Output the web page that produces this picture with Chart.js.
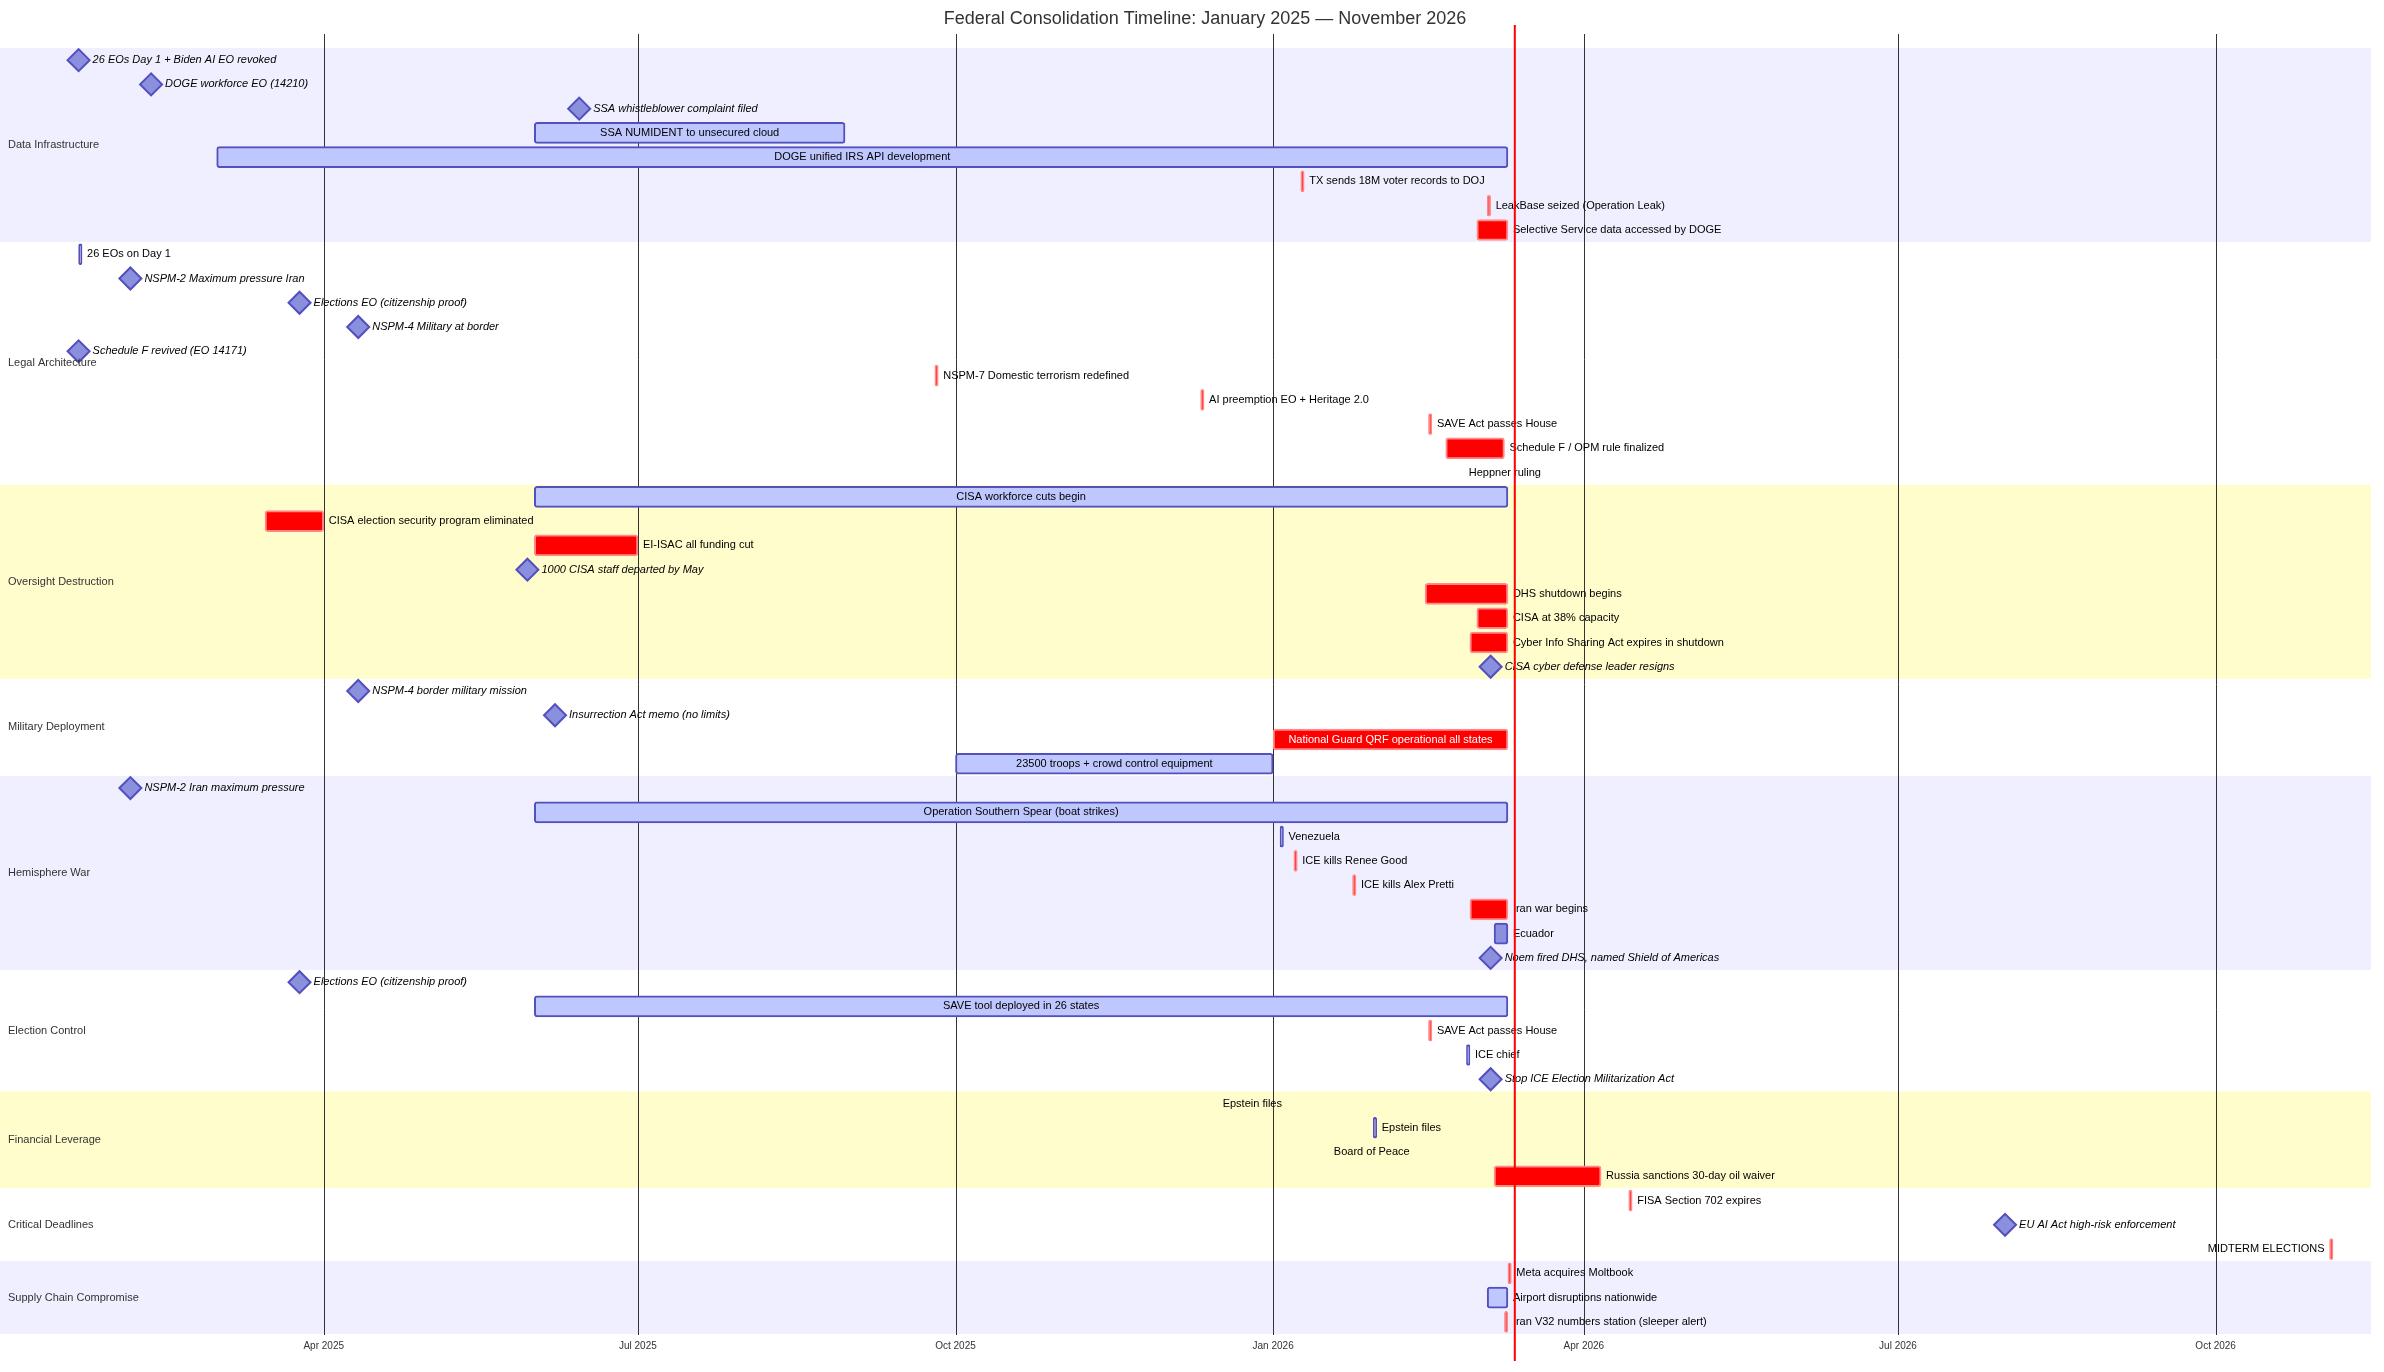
<!DOCTYPE html>
<html><head><meta charset="utf-8">
<script src="https://cdn.jsdelivr.net/npm/chart.js@4/dist/chart.umd.min.js"></script>
<style>html,body{margin:0;padding:0;background:#fff}canvas{display:block}</style>
</head><body>
<canvas id="c" width="2384" height="1372"></canvas>
<script>
const chartTitle = 'Federal Consolidation Timeline: January 2025 — November 2026';
const sectionNames = ['Data Infrastructure','Legal Architecture','Oversight Destruction','Military Deployment','Hemisphere War','Election Control','Financial Leverage','Critical Deadlines','Supply Chain Compromise'];
const sectionCounts = [8,10,8,4,8,5,4,3,3];
const taskNames = [
 '26 EOs Day 1 + Biden AI EO revoked','DOGE workforce EO (14210)','SSA whistleblower complaint filed','SSA NUMIDENT to unsecured cloud','DOGE unified IRS API development','TX sends 18M voter records to DOJ','LeakBase seized (Operation Leak)','Selective Service data accessed by DOGE',
 '26 EOs on Day 1','NSPM-2 Maximum pressure Iran','Elections EO (citizenship proof)','NSPM-4 Military at border','Schedule F revived (EO 14171)','NSPM-7 Domestic terrorism redefined','AI preemption EO + Heritage 2.0','SAVE Act passes House','Schedule F / OPM rule finalized','Heppner ruling',
 'CISA workforce cuts begin','CISA election security program eliminated','EI-ISAC all funding cut','1000 CISA staff departed by May','DHS shutdown begins','CISA at 38% capacity','Cyber Info Sharing Act expires in shutdown','CISA cyber defense leader resigns',
 'NSPM-4 border military mission','Insurrection Act memo (no limits)','National Guard QRF operational all states','23500 troops + crowd control equipment',
 'NSPM-2 Iran maximum pressure','Operation Southern Spear (boat strikes)','Venezuela','ICE kills Renee Good','ICE kills Alex Pretti','Iran war begins','Ecuador','Noem fired DHS, named Shield of Americas',
 'Elections EO (citizenship proof)','SAVE tool deployed in 26 states','SAVE Act passes House','ICE chief','Stop ICE Election Militarization Act',
 'Epstein files','Epstein files','Board of Peace','Russia sanctions 30-day oil waiver',
 'FISA Section 702 expires','EU AI Act high-risk enforcement','MIDTERM ELECTIONS',
 'Meta acquires Moltbook','Airport disruptions nationwide','Iran V32 numbers station (sleeper alert)'];
const taskKind = [
 'milestone','milestone','milestone','active','active','crit','crit','crit',
 'task','milestone','milestone','milestone','milestone','crit','crit','crit','crit','text',
 'active','crit','crit','milestone','crit','crit','crit','milestone',
 'milestone','milestone','crit','active',
 'milestone','active','task','crit','crit','crit','task','milestone',
 'milestone','active','crit','task','milestone',
 'text','task','text','crit',
 'crit','milestone','critL',
 'crit','active','crit'];
const taskStart = [
 '2025-01-20','2025-02-10','2025-06-14','2025-06-01','2025-03-01','2026-01-09','2026-03-04','2026-03-01',
 '2025-01-20','2025-02-04','2025-03-25','2025-04-11','2025-01-20','2025-09-25','2025-12-11','2026-02-15','2026-02-20','2026-03-21',
 '2025-06-01','2025-03-15','2025-06-01','2025-05-30','2026-02-14','2026-03-01','2026-02-27','2026-03-05',
 '2025-04-11','2025-06-07','2026-01-01','2025-10-01',
 '2025-02-04','2025-06-01','2026-01-03','2026-01-07','2026-01-24','2026-02-27','2026-03-06','2026-03-05',
 '2025-03-25','2025-06-01','2026-02-15','2026-02-26','2026-03-05',
 '2026-01-05','2026-01-30','2026-02-11','2026-03-06',
 '2026-04-14','2026-08-01','2026-11-03',
 '2026-03-10','2026-03-04','2026-03-09'];
const taskEnd = [
 null,null,null,'2025-08-30','2026-03-10','2026-01-10','2026-03-05','2026-03-10',
 '2025-01-21',null,null,null,null,'2025-09-26','2025-12-12','2026-02-16','2026-03-09',null,
 '2026-03-10','2025-04-01','2025-07-01',null,'2026-03-10','2026-03-10','2026-03-10',null,
 null,null,'2026-03-10','2026-01-01',
 null,'2026-03-10','2026-01-04','2026-01-08','2026-01-25','2026-03-10','2026-03-10',null,
 null,'2026-03-10','2026-02-16','2026-02-27',null,
 null,'2026-01-31',null,'2026-04-06',
 '2026-04-15',null,'2026-11-04',
 '2026-03-11','2026-03-10','2026-03-10'];
const tickDates = ['2025-04-01','2025-07-01','2025-10-01','2026-01-01','2026-04-01','2026-07-01','2026-10-01'];
const tickLabels = ['Apr 2025','Jul 2025','Oct 2025','Jan 2026','Apr 2026','Jul 2026','Oct 2026'];
const axisStart = '2025-01-01', axisEnd = '2026-11-15', todayDate = '2026-03-12';

const ORIGIN = Date.UTC(2025,0,1);
const day = s => (Date.parse(s + 'T00:00:00Z') - ORIGIN) / 86400000;
const FONT = '"Liberation Sans", Arial, sans-serif';
const rows = taskNames.map((_, i) => String(i));
const isBar = k => k === 'crit' || k === 'critL' || k === 'active' || k === 'task';
const fillFor = k => (k === 'crit' || k === 'critL') ? '#ff0000' : k === 'active' ? '#bfc7ff' : '#8a90dd';
const borderFor = k => (k === 'crit' || k === 'critL') ? '#ff8888' : '#534fbc';

const overlay = {
  id: 'overlay',
  beforeDatasetsDraw(chart) {
    const ctx = chart.ctx, x = chart.scales.x, y = chart.scales.y;
    const h = y.getPixelForValue(1) - y.getPixelForValue(0);
    const bandCols = ['rgba(102,102,255,0.1)', '#ffffff', 'rgba(255,244,0,0.2)', '#ffffff'];
    let r = 0;
    ctx.save();
    sectionNames.forEach((name, s) => {
      const top = y.getPixelForValue(r) - h / 2;
      const bot = y.getPixelForValue(r + sectionCounts[s] - 1) + h / 2;
      ctx.fillStyle = bandCols[s % 4];
      ctx.fillRect(0, top, x.right, bot - top);
      r += sectionCounts[s];
    });
    ctx.strokeStyle = '#333'; ctx.lineWidth = 1;
    tickDates.forEach(d => {
      const px = Math.round(x.getPixelForValue(day(d))) + 0.5;
      ctx.beginPath(); ctx.moveTo(px, 34); ctx.lineTo(px, y.bottom + 1); ctx.stroke();
    });
    ctx.restore();
  },
  afterDatasetsDraw(chart) {
    const ctx = chart.ctx, x = chart.scales.x, y = chart.scales.y;
    ctx.save();
    ctx.textBaseline = 'middle';
    ctx.font = '11px ' + FONT; ctx.fillStyle = '#333'; ctx.textAlign = 'left';
    let r = 0;
    sectionNames.forEach((name, s) => {
      const mid = (y.getPixelForValue(r) + y.getPixelForValue(r + sectionCounts[s] - 1)) / 2;
      ctx.fillText(name, 8, mid);
      r += sectionCounts[s];
    });
    taskNames.forEach((t, i) => {
      const k = taskKind[i];
      const py = y.getPixelForValue(i);
      const xs = x.getPixelForValue(day(taskStart[i]));
      if (k === 'milestone') {
        ctx.font = 'italic 11px ' + FONT; ctx.fillStyle = '#000'; ctx.textAlign = 'left';
        ctx.fillText(t, xs + 14, py);
        return;
      }
      ctx.font = '11px ' + FONT;
      if (k === 'text' || k === 'critL') { ctx.fillStyle = '#000'; ctx.textAlign = 'right'; ctx.fillText(t, xs - 5, py); return; }
      const xe = x.getPixelForValue(day(taskEnd[i]));
      const w = ctx.measureText(t).width;
      if (w + 10 < xe - xs) {
        ctx.fillStyle = k === 'crit' ? '#fff' : '#000'; ctx.textAlign = 'center';
        ctx.fillText(t, (xs + xe) / 2, py);
      } else {
        ctx.fillStyle = '#000'; ctx.textAlign = 'left';
        ctx.fillText(t, xe + 5, py);
      }
    });
    ctx.font = '10px ' + FONT; ctx.fillStyle = '#333'; ctx.textAlign = 'center';
    tickDates.forEach((d, i) => ctx.fillText(tickLabels[i], x.getPixelForValue(day(d)), y.bottom + 12));
    const tx = x.getPixelForValue(day(todayDate));
    ctx.strokeStyle = '#ff0000'; ctx.lineWidth = 2;
    ctx.beginPath(); ctx.moveTo(tx, 25); ctx.lineTo(tx, 1361); ctx.stroke();
    ctx.font = '18px ' + FONT; ctx.fillStyle = '#333'; ctx.textAlign = 'center';
    ctx.fillText(chartTitle, 1205, 19);
    ctx.restore();
  }
};

new Chart(document.getElementById('c'), {
  type: 'bar',
  data: {
    labels: rows,
    datasets: [
      {
        type: 'bar',
        data: taskKind.map((k, i) => isBar(k) ? [day(taskStart[i]), day(taskEnd[i])] : null),
        backgroundColor: taskKind.map(fillFor),
        borderColor: taskKind.map(borderFor),
        borderWidth: 2, borderRadius: 3, borderSkipped: false,
        barThickness: 21
      },
      {
        type: 'line', showLine: false,
        data: taskKind.map((k, i) => k === 'milestone' ? { x: day(taskStart[i]), y: String(i) } : null).filter(p => p),
        pointStyle: 'rectRot', pointRadius: 11, pointHoverRadius: 11,
        backgroundColor: '#8a90dd', borderColor: '#534fbc', borderWidth: 2
      }
    ]
  },
  options: {
    indexAxis: 'y',
    responsive: false, animation: false, devicePixelRatio: 1,
    layout: { padding: { top: 48, bottom: 38, left: 9, right: 11 } },
    plugins: { legend: { display: false }, tooltip: { enabled: false } },
    scales: {
      x: { type: 'linear', min: day(axisStart), max: day(axisEnd), offset: false, display: false },
      y: { type: 'category', labels: rows, offset: true, display: false }
    }
  },
  plugins: [overlay]
});
</script>
</body></html>
